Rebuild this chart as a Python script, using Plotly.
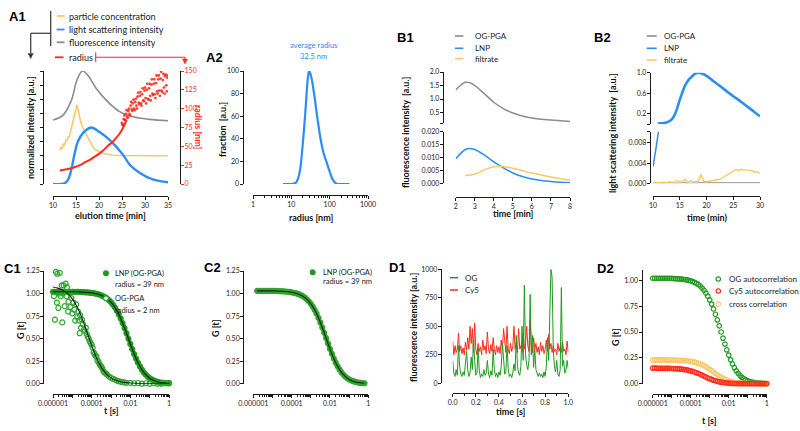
import plotly.graph_objects as go

W, H = 800, 431

# ---------------- data ----------------
# A1 elution profiles (normalized) and radius
a1_grey_t = [10, 12.2, 14, 15.2, 16.4, 17.6, 19.4, 21.6, 24.5, 27.4, 31, 35]
a1_grey = [0.566, 0.61, 0.74, 0.92, 1.0, 0.96, 0.845, 0.74, 0.64, 0.595, 0.572, 0.56]
a1_orange_t = [11.5, 11.8, 12.0, 12.3, 12.5, 12.8, 13.0, 13.3, 13.5, 13.8, 14.0, 14.3, 14.5, 14.8, 15.0,
               15.2, 15.4, 15.6, 15.8, 16.0, 16.5, 17.0, 17.5, 18.0, 18.5, 19.0, 20.0, 21.0, 22.0, 23.0,
               25.0, 27.0, 30.0, 33.0, 35.0]
a1_orange = [0.30, 0.33, 0.31, 0.36, 0.34, 0.39, 0.38, 0.42, 0.41, 0.46, 0.48, 0.53, 0.56, 0.62, 0.66,
             0.70, 0.67, 0.62, 0.58, 0.55, 0.50, 0.46, 0.41, 0.37, 0.34, 0.31, 0.285, 0.27, 0.26, 0.255,
             0.252, 0.25, 0.25, 0.25, 0.25]
a1_blue_t = [10, 12.5, 13.3, 14, 14.7, 15.4, 16.5, 18.3, 20.1, 22.3, 25.2, 26.7, 28.8, 31.7, 35]
a1_blue = [0.0, 0.005, 0.04, 0.13, 0.27, 0.375, 0.45, 0.50, 0.46, 0.39, 0.26, 0.17, 0.10, 0.04, 0.015]
a1_radius_t = [11.5, 13, 14.5, 16, 17, 18, 19, 20, 21, 22, 23, 24, 24.5, 25, 25.5, 26]
a1_radius = [18, 19.5, 22, 25.5, 29, 32, 36, 40, 45, 51, 56, 63, 67, 72, 78, 85]
a1_cloud_a_t = [25.0 + 0.25 * k for k in range(41)]
a1_cloud_a = [81, 78, 91, 85, 98, 88, 100, 91, 109, 97, 112, 98, 113, 100, 121, 106, 122, 104, 127, 110,
              128, 107, 133, 112, 133, 111, 139, 118, 139, 114, 144, 120, 144, 117, 149, 122, 146, 120,
              145, 123, 144]
a1_cloud_b_t = [25.125 + 0.25 * k for k in range(40)]
a1_cloud_b = [79, 86, 85, 93, 89, 97, 93, 104, 99, 107, 100, 109, 104, 116, 108, 117, 107, 119, 111, 124,
              114, 125, 113, 127, 117, 132, 120, 133, 119, 134, 123, 139, 124, 140, 124, 138, 128, 143,
              131, 141]

# A2 size distribution
a2_radius = [6, 10, 13, 15, 17, 19, 21, 23, 25, 27, 29, 31, 34, 38, 42, 47, 53, 60, 70, 82, 100, 120,
             140, 160, 200, 330]
a2_fraction = [0, 0, 1, 5, 13, 28, 45, 62, 80, 94, 100, 98, 93, 83, 73, 60, 48, 37, 27, 20, 11, 4, 1, 0,
               0, 0]

# B1 fluorescence
b1_t = [2, 2.25, 2.5, 2.75, 3, 3.5, 4, 4.5, 5, 5.5, 6, 6.5, 7, 7.5, 8]
b1_ogpga = [1.33, 1.5, 1.62, 1.6, 1.5, 1.2, 0.88, 0.64, 0.48, 0.37, 0.3, 0.25, 0.22, 0.19, 0.17]
b1_lnp = [0.0095, 0.0115, 0.0131, 0.0135, 0.0131, 0.011, 0.0083, 0.006, 0.004, 0.0026, 0.0017, 0.0011,
          0.0007, 0.0004, 0.0002]
b1_filt_t = [2.5, 3, 3.5, 4, 4.5, 5, 5.5, 6, 6.5, 7, 7.5, 8]
b1_filt = [0.003, 0.0035, 0.0052, 0.0064, 0.0065, 0.0058, 0.0049, 0.004, 0.0032, 0.0024, 0.0018, 0.0012]

# B2 light scattering
b2_lnp_t = [10.9, 11.5, 12, 12.5, 13, 13.5, 14, 14.5, 15, 15.5, 16, 16.5, 17, 17.5, 18, 18.5, 19, 20,
            21, 22, 23, 24, 25, 26, 27, 28, 29, 30]
b2_lnp = [0.01, 0.015, 0.02, 0.03, 0.05, 0.09, 0.17, 0.30, 0.47, 0.62, 0.75, 0.84, 0.90, 0.95, 0.99, 1.0,
          0.99, 0.94, 0.86, 0.78, 0.70, 0.62, 0.54, 0.47, 0.39, 0.31, 0.23, 0.15]
b2_lnp_low_t = [10.0, 10.3, 10.6, 10.9, 11.2]
b2_lnp_low = [0.0033, 0.0052, 0.0072, 0.0094, 0.0116]
b2_filt_t = [10 + 0.5 * k for k in range(41)]
b2_filt = [0.0001, 0.0002, 0.0001, 0.0002, 0.0002, 0.0001, 0.0003, 0.0002, 0.0002, 0.0006, 0.0002,
           0.0003, 0.0008, 0.0002, 0.0005, 0.0003, 0.0003, 0.0004, 0.0018, 0.0004, 0.0003, 0.0004,
           0.0004, 0.0005, 0.0006, 0.0008, 0.0011, 0.0014, 0.0017, 0.0021, 0.0023, 0.0027, 0.0025,
           0.0028, 0.0026, 0.0027, 0.0025, 0.0026, 0.0022, 0.0023, 0.0020]
b2_grey_t = list(range(10, 31))
b2_grey = [0.0, 0.0001, 0.0, 0.0001, 0.0, 0.0001, 0.0001, 0.0, 0.0001, 0.0001, 0.0001, 0.0001, 0.0001,
           0.0002, 0.0002, 0.0002, 0.0002, 0.0001, 0.0001, 0.0001, 0.0001]

# C1 / C2 correlation curves (lag time as log10 exponent)
c1_lnp_exp = [round(-6 + 0.1 * i, 1) for i in range(61)]
c1_lnp = [1.02] * 14 + [1.017, 1.016, 1.015, 1.014, 1.012, 1.010, 1.008, 1.004, 1.000, 0.995, 0.988,
                        0.980, 0.970, 0.959, 0.944, 0.925, 0.904, 0.877, 0.847, 0.811, 0.770, 0.723,
                        0.672, 0.617, 0.560, 0.500, 0.441, 0.383, 0.327, 0.277, 0.231, 0.191, 0.155,
                        0.124, 0.100, 0.079, 0.061, 0.047, 0.037, 0.028, 0.021, 0.016, 0.012, 0.009,
                        0.006, 0.005, 0.004]
c1_og_exp = [-5.95, -5.9, -5.85, -5.8, -5.78, -5.72, -5.7, -5.65, -5.6, -5.55, -5.52, -5.48, -5.45, -5.4,
             -5.35, -5.3, -5.28, -5.22, -5.2, -5.15, -5.1, -5.05, -5.0, -4.95, -4.9, -4.85, -4.8, -4.75,
             -4.7, -4.65, -4.62, -4.6, -4.55, -4.5, -4.45, -4.4, -4.35, -4.3, -4.25, -4.2, -4.15, -4.1,
             -4.05, -4.0, -3.95, -3.9, -3.85, -3.8, -3.75, -3.7, -3.65, -3.6, -3.55, -3.5, -3.45, -3.4,
             -3.35, -3.3, -3.25, -3.2, -3.1, -3.0, -2.9, -2.8, -2.7, -2.6, -2.5, -2.4, -2.3, -2.2, -2.0,
             -1.8, -1.6, -1.4, -1.2, -1.0, -0.8, -0.6, -0.4, -0.2, 0.0]
c1_og = [0.97, 0.71, 1.24, 0.90, 1.22, 0.84, 1.00, 1.23, 0.97, 1.09, 0.68, 1.00, 1.09, 0.86,
         1.11, 0.97, 1.07, 0.80, 0.91, 1.02, 0.85, 0.95, 0.78, 0.90, 0.82, 0.70, 0.88, 0.74,
         0.80, 0.70, 0.56, 0.76, 0.62, 0.71, 0.66, 0.60, 0.58, 0.62, 0.55, 0.52, 0.50, 0.47,
         0.45, 0.43, 0.40, 0.35, 0.33, 0.31, 0.30, 0.26, 0.24, 0.22, 0.20, 0.19, 0.17, 0.14,
         0.13, 0.12, 0.11, 0.10, 0.08, 0.065, 0.055, 0.045, 0.035, 0.03, 0.02, 0.018, 0.015, 0.01, 0.01,
         0.005, 0.008, 0.0, 0.005, 0.0, 0.005, 0.0, 0.0, 0.01, 0.01]
c1_og_fit_exp = [-6 + 0.25 * i for i in range(25)]
c1_og_fit = [1.073, 1.060, 1.038, 1.001, 0.941, 0.850, 0.726, 0.576, 0.422, 0.285, 0.181, 0.110, 0.065,
             0.037, 0.021, 0.012, 0.007, 0.004, 0.002, 0.001, 0.001, 0, 0, 0, 0]
c2_exp = [round(-5.8 + 0.1 * i, 1) for i in range(57)]
c2_lnp = [1.03] * 11 + [1.027, 1.026, 1.025, 1.024, 1.022, 1.020, 1.018, 1.014, 1.009, 1.004, 0.998,
                        0.990, 0.980, 0.968, 0.953, 0.934, 0.913, 0.886, 0.855, 0.819, 0.778, 0.730,
                        0.679, 0.623, 0.565, 0.505, 0.445, 0.386, 0.331, 0.280, 0.233, 0.193, 0.157,
                        0.126, 0.101, 0.079, 0.062, 0.047, 0.037, 0.028, 0.022, 0.016, 0.012, 0.009,
                        0.006, 0.005]

# D1 intensity traces
d1_t = [i / 100 for i in range(101)]
d1_og = [200, 90, 60, 120, 70, 330, 150, 80, 60, 100, 70, 160, 280, 120, 60, 90, 230, 120, 390, 200,
         70, 90, 310, 110, 50, 80, 60, 120, 70, 90, 200, 80, 50, 110, 70, 300, 120, 60, 90, 50,
         100, 70, 150, 350, 160, 80, 100, 330, 130, 60, 80, 50, 90, 170, 110, 420, 150, 90, 70, 150,
         500, 200, 860, 250, 160, 120, 200, 780, 250, 420, 140, 300, 120, 80, 60, 90, 60, 80, 50, 100,
         60, 150, 400, 200, 590, 1000, 930, 300, 150, 100, 200, 80, 60, 120, 840, 150, 200, 90, 120, 200,
         130]
d1_cy5 = [370, 250, 330, 270, 300, 440, 280, 330, 260, 310, 250, 360, 290, 400, 300, 500, 350, 480, 270,
          530, 300, 250, 350, 280, 320, 250, 380, 290, 330, 260, 450, 300, 260, 340, 280, 400, 300, 250,
          330, 270, 320, 260, 380, 300, 480, 330, 270, 500, 300, 260, 350, 280, 320, 500, 300, 360, 270,
          480, 300, 330, 270, 440, 300, 350, 500, 330, 280, 560, 320, 270, 400, 300, 350, 270, 320, 250,
          360, 280, 330, 260, 300, 380, 280, 430, 300, 350, 270, 330, 280, 300, 250, 350, 280, 320, 270,
          360, 280, 300, 250, 370, 270]

# D2 correlation curves
d2_exp = [round(-6 + 0.1 * i, 1) for i in range(61)]
d2_og = [1.02] * 11 + [1.017, 1.016, 1.015, 1.014, 1.012, 1.010, 1.008, 1.004, 1.000, 0.995, 0.988,
                       0.981, 0.971, 0.960, 0.945, 0.925, 0.904, 0.877, 0.847, 0.811, 0.770, 0.723,
                       0.672, 0.617, 0.560, 0.500, 0.441, 0.383, 0.327, 0.277, 0.231, 0.191, 0.155,
                       0.124, 0.100, 0.079, 0.061, 0.047, 0.037, 0.028, 0.021, 0.016, 0.012, 0.009,
                       0.006, 0.005, 0.004, 0.003, 0.002, 0.002]
d2_cy5 = [0.150, 0.150, 0.150, 0.149, 0.149, 0.149, 0.149, 0.149, 0.148, 0.148,
          0.147, 0.146, 0.145, 0.144, 0.143, 0.141, 0.139, 0.136, 0.133, 0.129,
          0.125, 0.119, 0.113, 0.106, 0.099, 0.091, 0.082, 0.074, 0.065, 0.056,
          0.048, 0.041, 0.034, 0.028, 0.023, 0.018, 0.015, 0.012, 0.009, 0.007,
          0.005, 0.004, 0.003, 0.002, 0.002, 0.001, 0.001, 0.001, 0.001, 0.0] + [0.0] * 11
d2_cross = [0.230] * 7 + [0.229, 0.229, 0.229, 0.229, 0.228, 0.228, 0.227, 0.226, 0.225, 0.224, 0.223,
                          0.221, 0.219, 0.216, 0.213, 0.209, 0.204, 0.198, 0.191, 0.183, 0.174, 0.163,
                          0.152, 0.139, 0.126, 0.113, 0.099, 0.086, 0.074, 0.063, 0.052, 0.043, 0.035,
                          0.028, 0.023, 0.018, 0.014, 0.011, 0.008, 0.006, 0.005, 0.004, 0.003, 0.002,
                          0.001, 0.001] + [0.0] * 8

ORANGE = '#F8C86A'
BLUE = '#2C8DF2'
GREY = '#8C8C8C'
RED = '#FF2B1C'
GREEN = '#1F9A1F'
INK = '#1b1b1b'
FONT = 'Lato'


def lag(exps):
    return [10 ** e for e in exps]


fig = go.Figure()


def line(x, y, xa, ya, color, width=1.6, shape='spline'):
    fig.add_trace(go.Scatter(x=x, y=y, xaxis=xa, yaxis=ya, mode='lines',
                             line=dict(color=color, width=width, shape=shape), hoverinfo='skip'))


def dots(x, y, xa, ya, color, size=5, open_=True):
    fig.add_trace(go.Scatter(x=x, y=y, xaxis=xa, yaxis=ya, mode='markers', cliponaxis=False,
                             marker=dict(size=size, symbol='circle-open' if open_ else 'circle',
                                         color=color, line=dict(width=1.2, color=color)),
                             hoverinfo='skip'))


# A1
line(a1_grey_t, a1_grey, 'x', 'y', GREY, 1.6)
line(a1_orange_t, a1_orange, 'x', 'y', ORANGE, 1.6, 'linear')
line(a1_blue_t, a1_blue, 'x', 'y', BLUE, 2.4)
line(a1_radius_t, a1_radius, 'x', 'y2', RED, 2.0)
fig.add_trace(go.Scatter(x=a1_cloud_a_t + a1_cloud_b_t, y=a1_cloud_a + a1_cloud_b, xaxis='x', yaxis='y2',
                         mode='markers', marker=dict(size=2.8, color=RED, opacity=0.9), hoverinfo='skip'))
# A2
line(a2_radius, a2_fraction, 'x2', 'y3', BLUE, 2.2)
# B1
line(b1_t, b1_ogpga, 'x3', 'y4', GREY, 1.5)
line(b1_t, b1_lnp, 'x3', 'y5', BLUE, 1.5)
line(b1_filt_t, b1_filt, 'x3', 'y5', ORANGE, 1.5)
# B2
line(b2_lnp_t, b2_lnp, 'x4', 'y6', BLUE, 2.6)
line(b2_lnp_low_t, b2_lnp_low, 'x4', 'y7', BLUE, 1.5)
line(b2_grey_t, b2_grey, 'x4', 'y7', GREY, 1.2, 'linear')
line(b2_filt_t, b2_filt, 'x4', 'y7', ORANGE, 1.4, 'linear')
# C1
line(lag(c1_lnp_exp), c1_lnp, 'x5', 'y8', GREEN, 4)
dots(lag(c1_lnp_exp), c1_lnp, 'x5', 'y8', GREEN, 5, False)
dots(lag(c1_og_exp), c1_og, 'x5', 'y8', '#2FA52F', 5)
line(lag(c1_og_fit_exp), c1_og_fit, 'x5', 'y8', INK, 1.1)
line(lag(c1_lnp_exp), c1_lnp, 'x5', 'y8', INK, 1.1)
# C2
line(lag(c2_exp), c2_lnp, 'x6', 'y9', GREEN, 4)
dots(lag(c2_exp), c2_lnp, 'x6', 'y9', '#2FA52F', 5, False)
line(lag(c2_exp), c2_lnp, 'x6', 'y9', INK, 1.1)
# D1
line(d1_t, d1_cy5, 'x7', 'y10', RED, 1.0, 'linear')
line(d1_t, d1_og, 'x7', 'y10', GREEN, 1.0, 'linear')
# D2
dots(lag(d2_exp), d2_og, 'x8', 'y11', GREEN, 4.5)
dots(lag(d2_exp), d2_cross, 'x8', 'y11', ORANGE, 4.5)
dots(lag(d2_exp), d2_cy5, 'x8', 'y11', RED, 4.5)

# ---------------- axes ----------------
AX = dict(showline=True, linecolor=INK, linewidth=1.3, ticks='outside', ticklen=3, tickwidth=1.2,
          tickcolor=INK, showgrid=False, zeroline=False, automargin=False, ticklabelstandoff=-1,
          tickfont=dict(family=FONT, size=7, color='#222'))
axes = {}


def xax(name, x0, x1, ypos, **kw):
    d = dict(AX, domain=[x0 / W, x1 / W], anchor='free', position=1 - ypos / H)
    d.update(kw)
    axes[name] = d


def yax(name, top, bottom, xpos, **kw):
    d = dict(AX, domain=[1 - bottom / H, 1 - top / H], anchor='free', position=xpos / W)
    d.update(kw)
    axes[name] = d


minor_log6 = dict(tickmode='array', tickvals=[m * 10 ** e for e in range(-6, 0) for m in range(2, 10)],
                  ticks='outside', ticklen=2, tickwidth=1, tickcolor=INK)
log6_vals = [1e-6, 1e-5, 1e-4, 1e-3, 1e-2, 1e-1, 1]
log6_text = ['0.000001', '', '0.0001', '', '0.01', '', '1']

xax('xaxis', 53, 168, 196, range=[10, 35], tickvals=[10, 15, 20, 25, 30, 35])
yax('yaxis', 71, 184, 43, range=[0, 1.0], tickvals=[i / 8 for i in range(9)], showticklabels=False)
yax('yaxis2', 71, 184, 180, range=[0, 150], tickvals=[0, 25, 50, 75, 100, 125, 150], side='right',
    overlaying='y', tickcolor=RED, tickfont=dict(family=FONT, size=7, color=RED))
xax('xaxis2', 253, 368, 195, type='log', range=[0, 3], tickvals=[1, 10, 100, 1000],
    ticktext=['1', '10', '100', '1000'],
    minor=dict(tickmode='array', tickvals=[m * 10 ** e for e in range(0, 3) for m in range(2, 10)],
               ticks='outside', ticklen=2, tickwidth=1, tickcolor=INK))
yax('yaxis3', 71, 184, 242.7, range=[0, 100], tickvals=[0, 20, 40, 60, 80, 100])
xax('xaxis3', 455.7, 570, 197, range=[2, 8], tickvals=[2, 3, 4, 5, 6, 7, 8])
yax('yaxis4', 72, 123.3, 443, range=[0.1, 2.0], tickvals=[0.1, 0.5, 1.0, 1.5, 2.0],
    ticktext=['', '0.5', '1.0', '1.5', '2.0'])
yax('yaxis5', 131.7, 183.3, 443, range=[0, 0.02], tickvals=[0, 0.005, 0.01, 0.015, 0.02],
    ticktext=['0.000', '0.005', '0.010', '0.015', '0.020'])
xax('xaxis4', 653, 760, 196, range=[10, 30], tickvals=[10, 15, 20, 25, 30])
yax('yaxis6', 72.7, 124, 650, range=[0, 1.0], tickvals=[0, 0.2, 0.6, 1.0], ticktext=['', '0.2', '0.6', '1.0'])
yax('yaxis7', 131.7, 183.3, 650, range=[0, 0.0102], tickvals=[0, 0.004, 0.008, 0.0102],
    ticktext=['0.000', '0.004', '0.008', ''])
xax('xaxis5', 53, 169, 394, type='log', range=[-6, 0], tickvals=log6_vals, ticktext=log6_text, minor=minor_log6)
yax('yaxis8', 271, 383.7, 43.3, range=[0, 1.25], tickvals=[0, 0.25, 0.5, 0.75, 1.0, 1.25], tickformat='.2f')
xax('xaxis6', 253.3, 368.3, 394, type='log', range=[-6, 0], tickvals=log6_vals, ticktext=log6_text, minor=minor_log6)
yax('yaxis9', 271, 383.7, 243.3, range=[0, 1.25], tickvals=[0, 0.25, 0.5, 0.75, 1.0, 1.25], tickformat='.2f')
xax('xaxis7', 452.7, 568.3, 393.3, range=[0, 1], tick0=0, dtick=0.2, tickformat='.1f',
    minor=dict(dtick=0.1, ticks='outside', ticklen=2, tickwidth=1, tickcolor=INK))
yax('yaxis10', 269.3, 383.3, 441, range=[0, 1000], tickvals=[0, 250, 500, 750, 1000])
xax('xaxis8', 652.7, 766.7, 394, type='log', range=[-6, 0], tickvals=log6_vals, ticktext=log6_text, minor=minor_log6)
yax('yaxis11', 270, 383.7, 641.7, range=[0, 1.1], tickvals=[0, 0.25, 0.5, 0.75, 1.0], tickformat='.2f')

# ---------------- text, legends, brackets ----------------
annotations = []
shapes = []


def ann(x, y, text, size=8, color='#222', xanchor='left', angle=0, family=FONT):
    annotations.append(dict(x=x / W, y=1 - y / H, xref='paper', yref='paper', text=text, showarrow=False,
                            xanchor=xanchor, yanchor='middle', textangle=angle,
                            font=dict(family=family, size=size, color=color)))


def seg(x0, y0, x1, y1, color, width=1.5):
    shapes.append(dict(type='line', xref='paper', yref='paper', x0=x0 / W, y0=1 - y0 / H, x1=x1 / W,
                       y1=1 - y1 / H, line=dict(color=color, width=width)))


def arrow_down(x, y, color):
    pts = [(x - 2.5, y - 5), (x + 2.5, y - 5), (x, y)]
    path = 'M ' + ' L '.join('%.5f %.5f' % (px / W, 1 - py / H) for px, py in pts) + ' Z'
    shapes.append(dict(type='path', xref='paper', yref='paper', path=path, fillcolor=color,
                       line=dict(color=color, width=0.5)))


def circ(x, y, color, filled, r=2.4):
    shapes.append(dict(type='circle', xref='paper', yref='paper', x0=(x - r) / W, x1=(x + r) / W,
                       y0=1 - (y + r) / H, y1=1 - (y - r) / H,
                       fillcolor=color if filled else 'white', line=dict(color=color, width=1.2)))


# panel labels
for lbl, x, y in [('A1', 17.5, 17), ('A2', 214.5, 57), ('B1', 405, 37), ('B2', 602, 37),
                  ('C1', 12, 268), ('C2', 212, 267.5), ('D1', 397.5, 267.5), ('D2', 605, 268)]:
    ann(x, y, '<b>%s</b>' % lbl, 13, '#000', 'center', family='Liberation Sans')

# axis titles
ann(30, 128, '<b>normalized intensity [a.u.]</b>', 9, '#111', 'center', -90)
ann(199, 127, '<b>radius [nm]</b>', 9, RED, 'center', 90)
ann(110.5, 215, '<b>elution time [min]</b>', 9, '#111', 'center')
ann(222, 130, '<b>fraction  [a.u.]</b>', 9, '#111', 'center', -90)
ann(310.7, 217, '<b>radius [nm]</b>', 9, '#111', 'center')
ann(405, 132, '<b>fluorescence intensity  [a.u.]</b>', 9, '#111', 'center', -90)
ann(513, 214, '<b>time [min]</b>', 9, '#111', 'center')
ann(612, 133, '<b>light scattering intensity  [a.u.]</b>', 9, '#111', 'center', -90)
ann(707, 217, '<b>time (min)</b>', 9, '#111', 'center')
ann(20, 330, '<b>G [t]</b>', 9, '#111', 'center', -90)
ann(111, 410, '<b>t [s]</b>', 9, '#111', 'center')
ann(215, 328, '<b>G [t]</b>', 9, '#111', 'center', -90)
ann(413, 328, '<b>fluorescence intensity [a.u.]</b>', 9, '#111', 'center', -90)
ann(510.5, 411.5, '<b>time [s]</b>', 9, '#111', 'center')
ann(615, 337, '<b>G [t]</b>', 9, '#111', 'center', -90)
ann(709.7, 420.5, '<b>t [s]</b>', 9, '#111', 'center')

# A1 legend and brackets
for txt, col, y in [('particle concentration', ORANGE, 16), ('light scattering intensity', BLUE, 29.5),
                    ('fluorescence intensity', GREY, 42.3)]:
    seg(56.7, y, 64.5, y, col, 1.8)
    ann(67, y, txt, 9, '#222')
seg(55, 57.3, 63.5, 57.3, RED, 1.8)
ann(67, 57.3, 'radius', 9, '#222')
seg(50.7, 11, 50.7, 46, '#444', 1.3)
seg(50.7, 33.3, 30.7, 33.3, '#444', 1.3)
seg(30.7, 33.3, 30.7, 53, '#444', 1.3)
arrow_down(30.7, 58.5, '#333')
seg(95.7, 52.5, 95.7, 62, RED, 1.1)
seg(95.7, 57.3, 185, 57.3, RED, 1.1)
seg(185, 57.3, 185, 59, RED, 1.1)
arrow_down(185, 64, RED)

# A2 title
ann(313.3, 45, 'average radius', 7.5, BLUE, 'center')
ann(313.3, 56.7, '32.5 nm', 7.5, BLUE, 'center')

# B1 / B2 legends
for txt, col, y in [('OG-PGA', GREY, 36), ('LNP', BLUE, 48.3), ('filtrate', ORANGE, 58.7)]:
    seg(455, y, 463.3, y, col, 1.6)
    ann(473, y, txt, 8, '#222')
for txt, col, y in [('OG-PGA', GREY, 36), ('LNP', BLUE, 48.3), ('filtrate', ORANGE, 60)]:
    seg(646.7, y, 656.7, y, col, 1.6)
    ann(661.7, y, txt, 8, '#222')

# C1 / C2 legends
circ(106, 273.3, GREEN, True)
ann(113.3, 273, 'LNP (OG-PGA)', 7.5)
ann(113.3, 284.3, 'radius = 39 nm', 7.5)
circ(106, 298.3, '#2FA52F', False)
ann(113.3, 298.3, 'OG-PGA', 7.5)
ann(113.3, 310, 'radius = 2 nm', 7.5)
circ(312.7, 272.3, GREEN, True)
ann(320.7, 272, 'LNP (OG-PGA)', 7.5)
ann(320.7, 281.7, 'radius = 39 nm', 7.5)

# D1 / D2 legends
seg(450, 277.7, 458, 277.7, GREEN, 1.5)
ann(462.7, 277.7, 'OG', 8)
seg(450, 290, 458, 290, RED, 1.5)
ann(462.7, 290, 'Cy5', 8)
for txt, col, y in [('OG autocorrelation', GREEN, 279), ('Cy5 autocorrelation', RED, 291),
                    ('cross correlation', ORANGE, 304)]:
    circ(718.3, y, col, False, 2.2)
    ann(727.3, y, txt, 8)

fig.update_layout(template='none', width=W, height=H, margin=dict(l=0, r=0, t=0, b=0, pad=0),
                  showlegend=False, paper_bgcolor='white', plot_bgcolor='white',
                  annotations=annotations, shapes=shapes, **axes)
fig.write_html("out.html", config={'displayModeBar': False},
               post_script="document.body.style.margin = '0';")
